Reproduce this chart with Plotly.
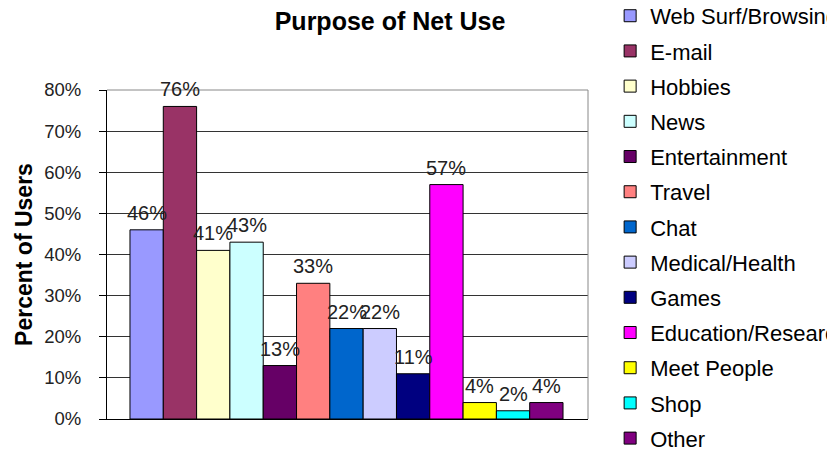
import plotly.graph_objects as go

purposes = ["Web Surf/Browsing", "E-mail", "Hobbies", "News", "Entertainment", "Travel",
            "Chat", "Medical/Health", "Games", "Education/Research", "Meet People", "Shop", "Other"]
percent_users = [46, 76, 41, 43, 13, 33, 22, 22, 11, 57, 4, 2, 4]
bar_colors = ["#9999FF", "#993366", "#FFFFCC", "#CCFFFF", "#660066", "#FF8080",
              "#0066CC", "#CCCCFF", "#000080", "#FF00FF", "#FFFF00", "#00FFFF", "#800080"]
y_ticks = [0, 0.1, 0.2, 0.3, 0.4, 0.5, 0.6, 0.7, 0.8]

FONT = "Arial, Liberation Sans, sans-serif"

fig = go.Figure()
for i, (name, val, col) in enumerate(zip(purposes, percent_users, bar_colors)):
    fig.add_trace(go.Bar(
        x=[i], y=[val / 100], width=1, name=name, legendgroup=name,
        marker=dict(color=col, line=dict(color="black", width=1)),
        hoverinfo="name+y",
    ))
    fig.add_annotation(x=i, y=val / 100, text=f"{val}%", showarrow=False,
                       yanchor="bottom", yshift=4,
                       font=dict(family=FONT, size=20, color="#222"))

fig.update_layout(
    width=827, height=450,
    margin=dict(l=107, r=239, t=90, b=31, autoexpand=False),
    paper_bgcolor="white", plot_bgcolor="white",
    barmode="overlay",
    font=dict(family=FONT, color="black"),
    title=dict(text="<b>Purpose of Net Use</b>", x=390 / 827, xanchor="center",
               y=0.953, yanchor="middle", font=dict(size=25, family=FONT, color="black")),
    legend=dict(x=1.046, xanchor="left", y=1.289, yanchor="top", maxheight=2000,
                font=dict(size=22, family=FONT, color="black"),
                tracegroupgap=3.6, itemclick=False, bgcolor="rgba(0,0,0,0)"),
    showlegend=True,
    xaxis=dict(range=[-1.19, 13.25], showticklabels=False, ticks="", showgrid=False,
               zeroline=False, showline=True, linecolor="black", linewidth=1),
    yaxis=dict(range=[0, 0.8], tickvals=y_ticks, tickformat=".0%", ticks="outside",
               ticklen=7, tickcolor="black", ticklabelstandoff=14,
               tickfont=dict(size=18.5, family=FONT, color="#222"),
               showgrid=True, gridcolor="#333", gridwidth=1, zeroline=False,
               showline=True, linecolor="black", linewidth=1,
               title=dict(text="<b>Percent of Users</b>", standoff=5,
                          font=dict(size=23, family=FONT, color="black"))),
)

# gray plot-area border on top and right
fig.add_shape(type="line", xref="x domain", yref="y domain", x0=0, x1=1, y0=1, y1=1,
              line=dict(color="#888", width=1), layer="above")
fig.add_shape(type="line", xref="x domain", yref="y domain", x0=1, x1=1, y0=0, y1=1,
              line=dict(color="#888", width=1), layer="above")

fig.write_html("out.html")
